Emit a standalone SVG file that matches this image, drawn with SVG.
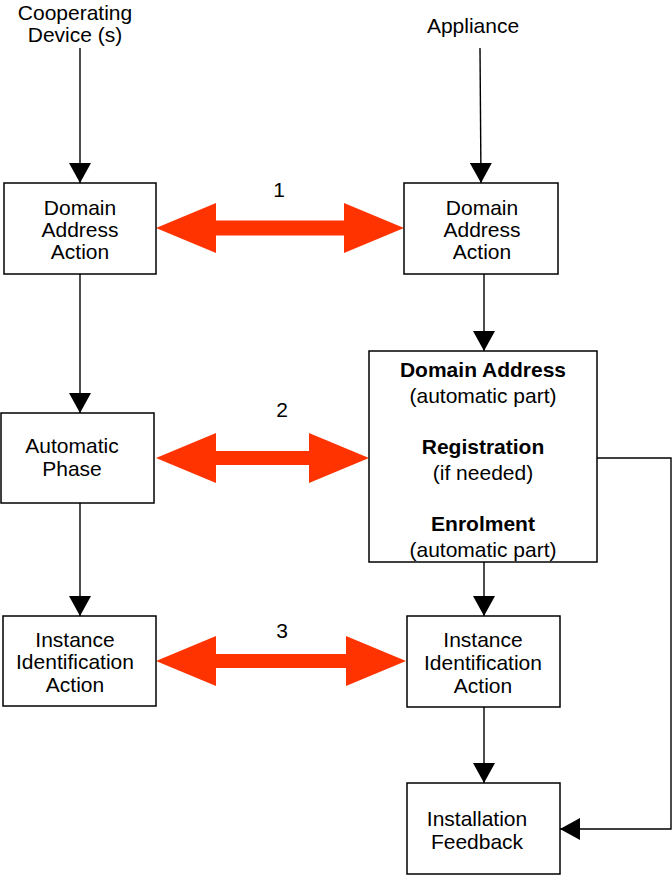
<svg xmlns="http://www.w3.org/2000/svg" width="672" height="875" viewBox="0 0 672 875">
<style>
  text { font-family: "Liberation Sans", Arial, sans-serif; font-size: 21px; fill: #000; text-anchor: middle; }
  .b { font-weight: bold; }
  .box { fill: #fff; stroke: #000; stroke-width: 1.5; }
  .ln { fill: none; stroke: #000; stroke-width: 1.4; marker-end: url(#ah); }
  .red { fill: #ff3300; stroke: none; }
</style>
<defs>
  <marker id="ah" viewBox="0 0 20 22" refX="20" refY="11" markerWidth="20" markerHeight="22" markerUnits="userSpaceOnUse" orient="auto">
    <path d="M0,0 L20,11 L0,22 z" fill="#000"/>
  </marker>
</defs>

<g id="labels">
  <text x="75" y="20">Cooperating</text>
  <text x="75" y="42">Device (s)</text>
  <text x="473" y="33">Appliance</text>
</g>

<g id="connectors">
  <line class="ln" x1="80" y1="48" x2="80" y2="183"/>
  <line class="ln" x1="480" y1="48" x2="481" y2="183"/>
  <line class="ln" x1="80" y1="274" x2="80" y2="413"/>
  <line class="ln" x1="484" y1="274" x2="484" y2="351"/>
  <line class="ln" x1="80" y1="503" x2="80" y2="616"/>
  <line class="ln" x1="484" y1="562" x2="484" y2="616"/>
  <line class="ln" x1="484" y1="707" x2="484" y2="783"/>
  <polyline class="ln" points="597,458 671,458 671,829 560,829"/>
  <polygon class="red" points="156,228 216,203 216,220.5 344,220.5 344,203 404,228 344,253 344,235.5 216,235.5 216,253"/>
  <polygon class="red" points="156,458 216,433 216,451 309,451 309,433 369,458 309,483 309,465 216,465 216,483"/>
  <polygon class="red" points="156,661 216,636 216,654 346,654 346,636 406,661 346,686 346,668 216,668 216,686"/>
  <text x="279" y="197">1</text>
  <text x="282" y="417">2</text>
  <text x="282" y="638">3</text>
</g>

<g id="cd-domain">
  <rect class="box" x="4" y="183" width="152" height="91"/>
  <text x="80" y="215">Domain</text>
  <text x="80" y="237">Address</text>
  <text x="80" y="259">Action</text>
</g>

<g id="ap-domain">
  <rect class="box" x="404" y="183" width="154" height="91"/>
  <text x="482" y="215">Domain</text>
  <text x="482" y="237">Address</text>
  <text x="482" y="259">Action</text>
</g>

<g id="cd-auto">
  <rect class="box" x="1" y="413" width="153" height="90"/>
  <text x="72" y="453">Automatic</text>
  <text x="72" y="476">Phase</text>
</g>

<g id="ap-auto">
  <rect class="box" x="369" y="351" width="228" height="211"/>
  <text class="b" x="483" y="377">Domain Address</text>
  <text x="483" y="403">(automatic part)</text>
  <text class="b" x="483" y="454">Registration</text>
  <text x="483" y="480">(if needed)</text>
  <text class="b" x="483" y="531">Enrolment</text>
  <text x="483" y="557">(automatic part)</text>
</g>

<g id="cd-instance">
  <rect class="box" x="3" y="616" width="153" height="90"/>
  <text x="75" y="647">Instance</text>
  <text x="75" y="669">Identification</text>
  <text x="75" y="692">Action</text>
</g>

<g id="ap-instance">
  <rect class="box" x="407" y="616" width="153" height="91"/>
  <text x="483" y="647">Instance</text>
  <text x="483" y="670">Identification</text>
  <text x="483" y="693">Action</text>
</g>

<g id="feedback">
  <rect class="box" x="407" y="783" width="153" height="91"/>
  <text x="477" y="826">Installation</text>
  <text x="477" y="849">Feedback</text>
</g>
</svg>
